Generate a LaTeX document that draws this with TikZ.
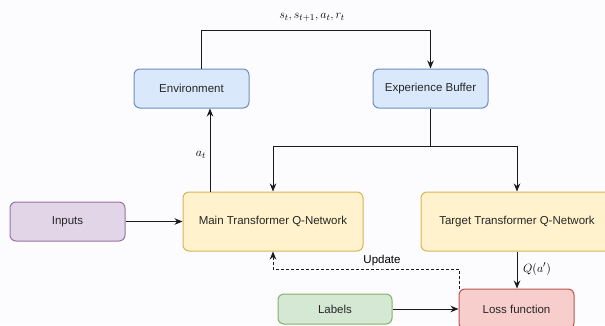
\documentclass[tikz,border=0pt]{standalone}
\usepackage{fontspec}
\setmainfont{Liberation Sans}
\usetikzlibrary{arrows.meta,calc}
\definecolor{bluefill}{HTML}{DAE8FC}\definecolor{blueline}{HTML}{6C8EBF}
\definecolor{yelfill}{HTML}{FFF2CC}\definecolor{yelline}{HTML}{D6B656}
\definecolor{purfill}{HTML}{E1D5E7}\definecolor{purline}{HTML}{9673A6}
\definecolor{grnfill}{HTML}{D5E8D4}\definecolor{grnline}{HTML}{82B366}
\definecolor{redfill}{HTML}{F8CECC}\definecolor{redline}{HTML}{B85450}
\definecolor{bgc}{HTML}{FCFCFE}
\definecolor{linec}{HTML}{1A1A1A}
\tikzset{
  box/.style={rounded corners=6pt, line width=1pt, minimum width=#1, inner sep=0pt, font=\fontsize{11.5}{13}\selectfont, text=black!85},
  bluebox/.style={box=115pt, draw=blueline, fill=bluefill, minimum height=39pt},
  yelbox/.style={box=180pt, draw=yelline, fill=yelfill, minimum height=59pt},
  conn/.style={draw=linec, line width=1pt, -{Stealth[length=8pt,width=6.5pt]}},
  plain/.style={draw=linec, line width=1pt},
  lbl/.style={inner sep=0pt, font=\fontsize{11.5}{13}\selectfont},
  mlbl/.style={inner sep=0pt, font=\fontsize{12.5}{14}\selectfont}
}
\begin{document}
\begin{tikzpicture}[x=1pt,y=-1pt]
\useasboundingbox (0,0) rectangle (605,325);
\fill[bgc] (0,0) rectangle (605,325);
\node[bluebox] (env) at (191.5,88.5) {Environment};
\node[bluebox] (buf) at (430.5,88.5) {Experience Buffer};
\node[yelbox] (main) at (273,221.5) {Main Transformer Q-Network};
\node[yelbox, minimum width=192pt] (target) at (517,221.5) {Target Transformer Q-Network};
\node[box=115pt, draw=purline, fill=purfill, minimum height=39pt] (inputs) at (67.5,221.5) {Inputs};
\node[box=114pt, draw=grnline, fill=grnfill, minimum height=30pt] (labels) at (335,309) {Labels};
\node[box=115pt, draw=redline, fill=redfill, minimum height=40pt] (loss) at (516.5,309) {Loss function};
\coordinate (top) at (313,30.7);
\coordinate (split) at (430.5,146);
\coordinate (upd) at (382,269);
\node[mlbl] (toplbl) at (312,17) {$s_t, s_{t+1}, a_t, r_t$};
\node[mlbl] (atlbl) at (201,155) {$a_t$};
\node[lbl] (updlbl) at (382,261) {Update};
\node[mlbl] (qlbl) at (537,269) {$Q(a')$};
\draw[conn] ([xshift=10pt]env.north) |- (top) -| (buf.north);
\draw[conn] ([xshift=-63pt]main.north) -- ([xshift=18.5pt]env.south);
\draw[plain] (buf.south) -- (split);
\draw[conn] (split) -| (main.north);
\draw[conn] (split) -| (target.north);
\draw[conn] (inputs.east) -- (main.west);
\draw[conn] (target.south) -- (loss.north -| target.south);
\draw[conn] (labels.east) -- (loss.west);
\draw[conn, dashed, dash pattern=on 3pt off 2pt] ([xshift=1pt]loss.north west) |- (upd) -| (main.south);
\end{tikzpicture}
\end{document}
